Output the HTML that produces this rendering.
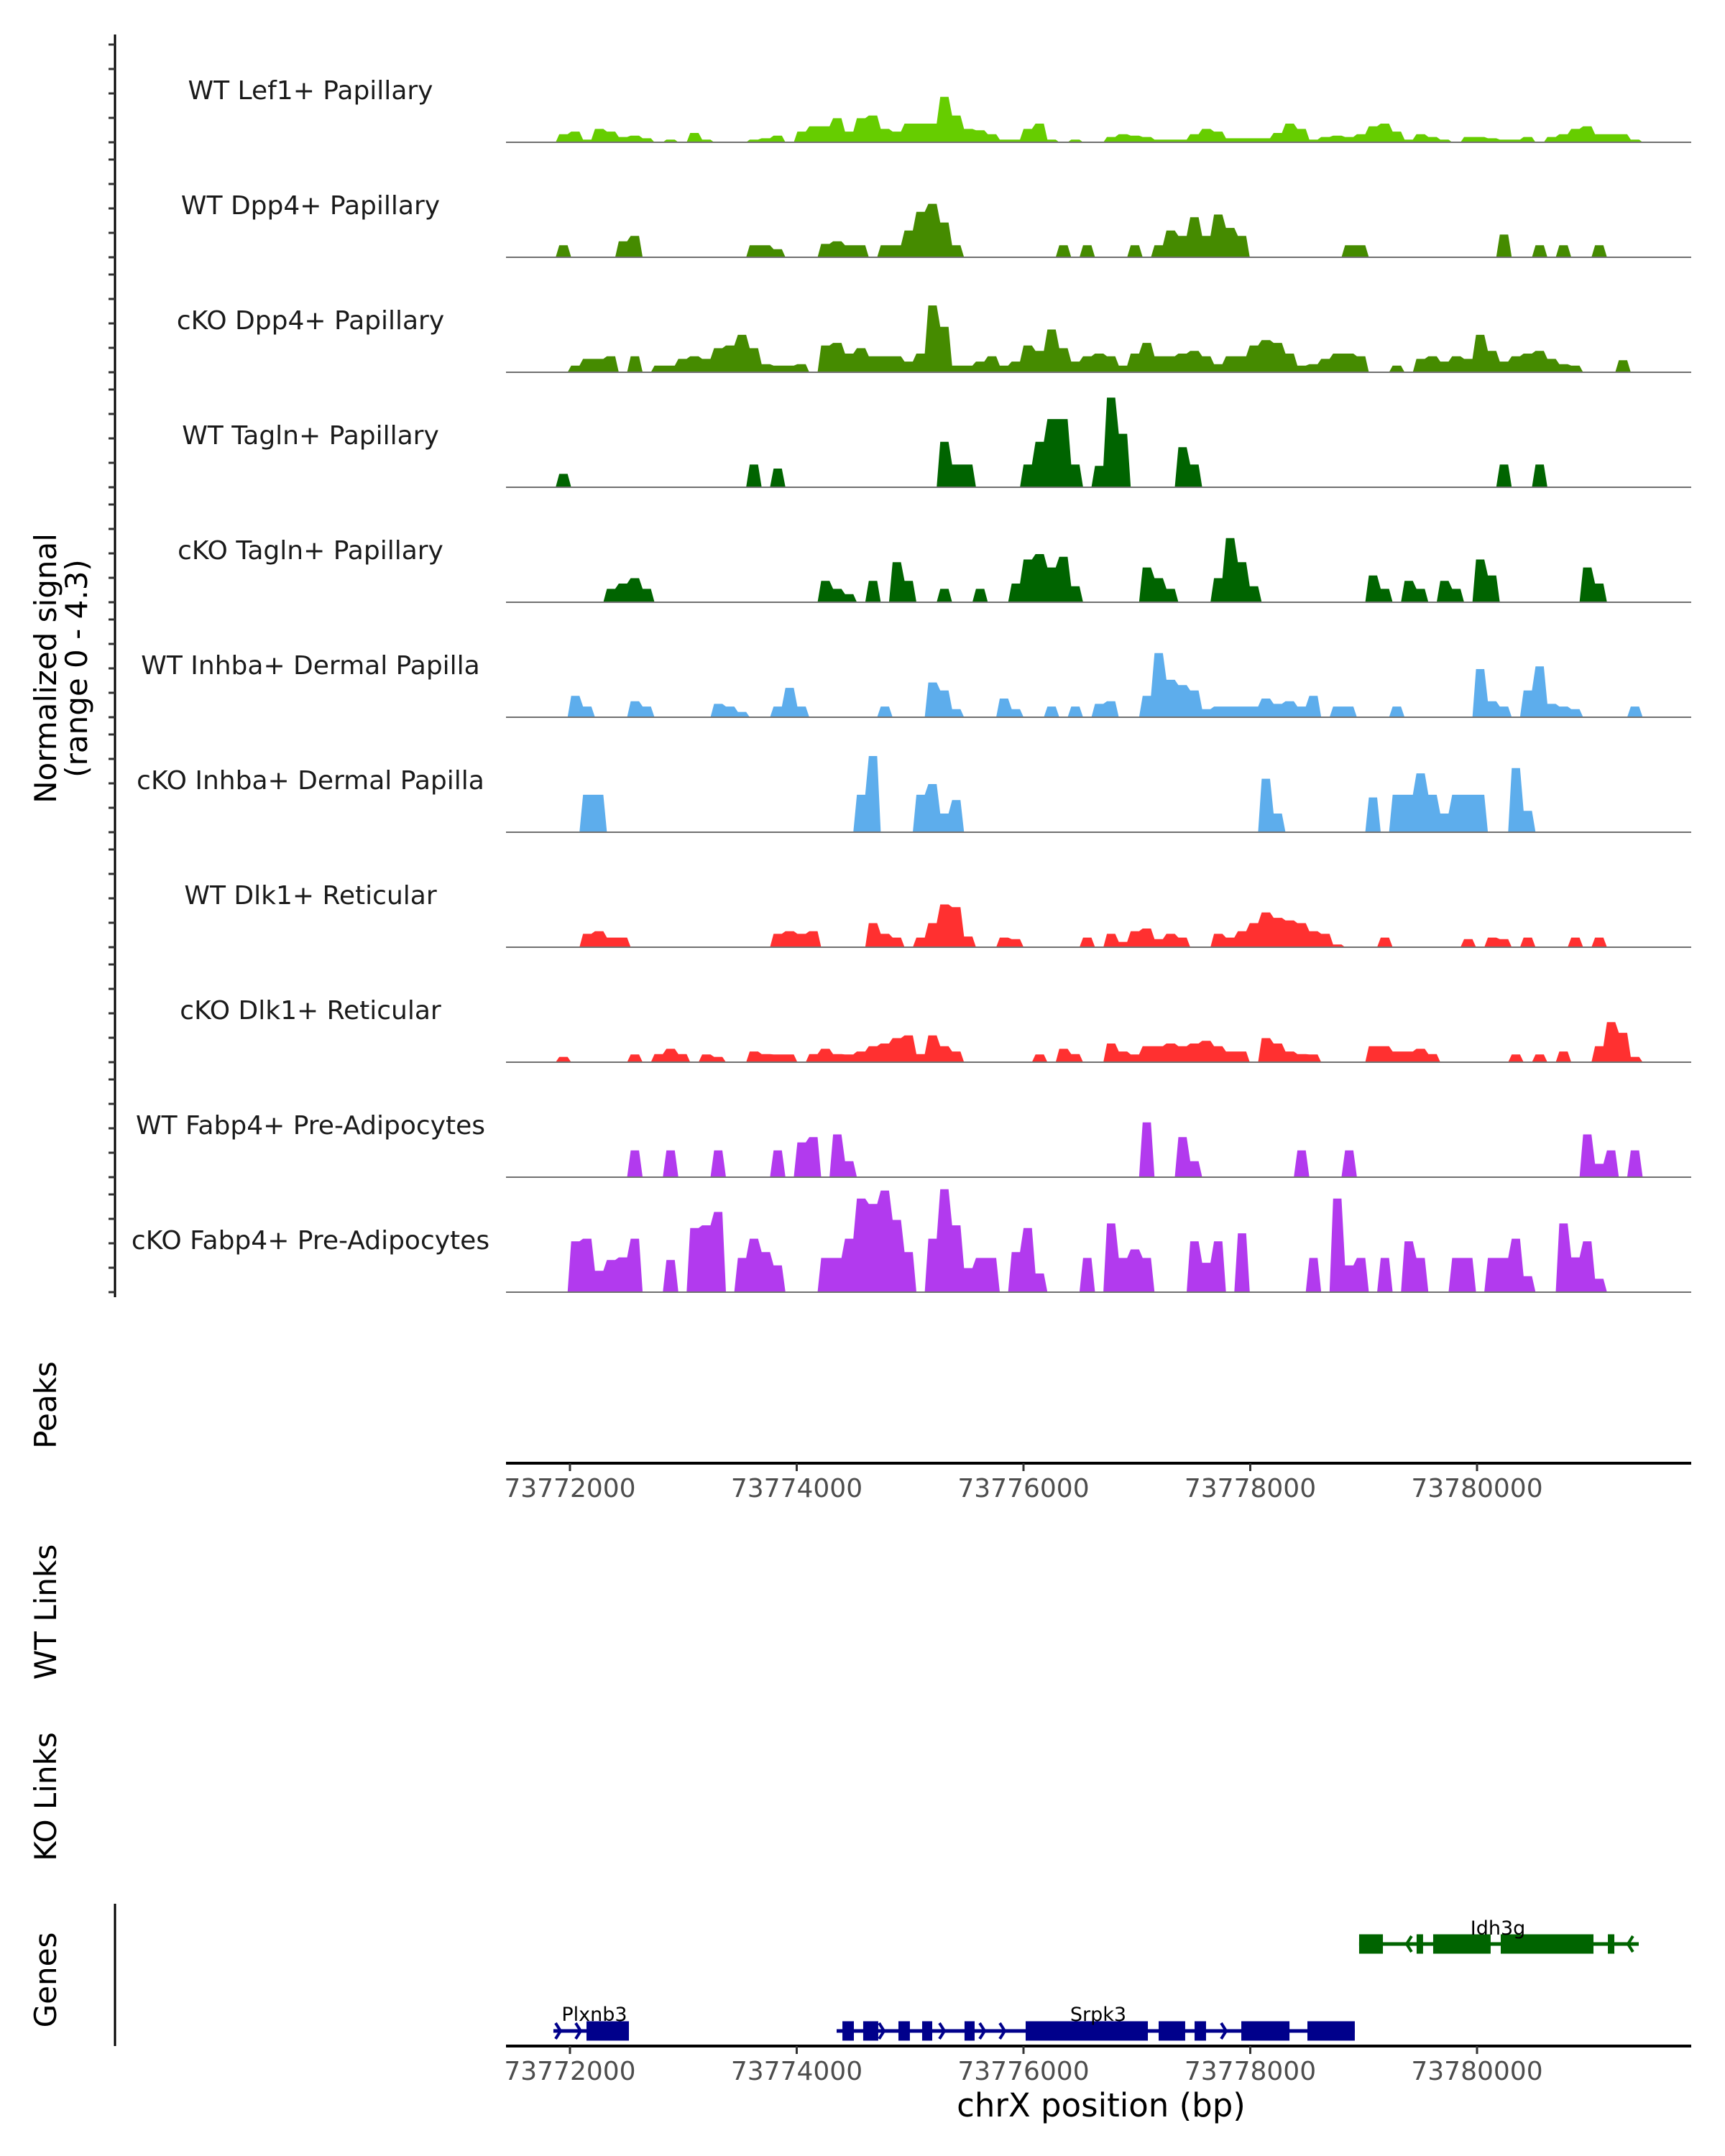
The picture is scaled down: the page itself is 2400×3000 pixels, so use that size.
<!DOCTYPE html>
<html><head><meta charset="utf-8">
<style>
html,body{margin:0;padding:0;background:#fff;}
svg{display:block;font-family:"DejaVu Sans","Liberation Sans",sans-serif;}
</style></head>
<body>
<svg id="chart" width="2400" height="3000" viewBox="0 0 2400 3000" xmlns="http://www.w3.org/2000/svg">
  <g id="tracks"></g>
  <g id="leftaxis"></g>
  <text transform="translate(78,930) rotate(-90)" text-anchor="middle" font-size="42" fill="#000">Normalized signal</text>
  <text transform="translate(121,930) rotate(-90)" text-anchor="middle" font-size="42" fill="#000">(range 0 - 4.3)</text>
  <text transform="translate(78,1955) rotate(-90)" text-anchor="middle" font-size="42" fill="#000">Peaks</text>
  <text transform="translate(78,2243) rotate(-90)" text-anchor="middle" font-size="42" fill="#000">WT Links</text>
  <text transform="translate(78,2500) rotate(-90)" text-anchor="middle" font-size="42" fill="#000">KO Links</text>
  <text transform="translate(78,2755) rotate(-90)" text-anchor="middle" font-size="42" fill="#000">Genes</text>
  <line x1="160" y1="2649" x2="160" y2="2847" stroke="#000" stroke-width="3"/>
  <g id="axes"></g>
  <g id="genes"></g>
  <text x="1532" y="2945" text-anchor="middle" font-size="45" fill="#000">chrX position (bp)</text>
</svg>
<script>
// ---- data ----
const binStart = 73771470;
const binSize = 105;
const trackNames = ["WT Lef1+ Papillary","WT Dpp4+ Papillary","cKO Dpp4+ Papillary","WT Tagln+ Papillary","cKO Tagln+ Papillary","WT Inhba+ Dermal Papilla","cKO Inhba+ Dermal Papilla","WT Dlk1+ Reticular","cKO Dlk1+ Reticular","WT Fabp4+ Pre-Adipocytes","cKO Fabp4+ Pre-Adipocytes"];
const trackColors = ["#66CD00","#458B00","#458B00","#006400","#006400","#5DADEC","#5DADEC","#FF3030","#FF3030","#B23AEE","#B23AEE"];
const lef1WT = [[4,.3],[5,.4],[6,.1],[7,.5],[8,.4],[9,.2],[10,.25],[11,.15],[13,.1],[15,.35],[16,.1],[20,.1],[21,.15],[22,.25],[24,.4],[25,.6],[26,.6],[27,.9],[28,.4],[29,.9],[30,1.0],[31,.5],[32,.4],[33,.7],[34,.7],[35,.7],[36,1.7],[37,1.0],[38,.5],[39,.45],[40,.3],[41,.1],[42,.1],[43,.5],[44,.7],[45,.1],[47,.1],[50,.2],[51,.3],[52,.25],[53,.2],[54,.1],[55,.1],[56,.1],[57,.3],[58,.5],[59,.4],[60,.15],[61,.15],[62,.15],[63,.15],[64,.35],[65,.7],[66,.5],[67,.1],[68,.2],[69,.25],[70,.2],[71,.3],[72,.6],[73,.7],[74,.4],[75,.1],[76,.3],[77,.2],[78,.1],[80,.2],[81,.2],[82,.15],[83,.1],[84,.1],[85,.2],[87,.2],[88,.3],[89,.5],[90,.6],[91,.3],[92,.3],[93,.3],[94,.1]];
const dpp4WT = [[4,.45],[9,.6],[10,.8],[20,.45],[21,.45],[22,.3],[26,.5],[27,.6],[28,.45],[29,.45],[31,.45],[32,.45],[33,1.0],[34,1.7],[35,2.0],[36,1.3],[37,.45],[46,.45],[48,.45],[52,.45],[54,.45],[55,1.0],[56,.8],[57,1.5],[58,.8],[59,1.6],[60,1.1],[61,.8],[70,.45],[71,.45],[83,.85],[86,.45],[88,.45],[91,.45]];
const dpp4KO = [[5,.25],[6,.5],[7,.5],[8,.6],[10,.6],[12,.25],[13,.25],[14,.5],[15,.6],[16,.5],[17,.9],[18,1.0],[19,1.4],[20,.9],[21,.3],[22,.25],[23,.25],[24,.3],[26,1.0],[27,1.1],[28,.7],[29,.9],[30,.6],[31,.6],[32,.6],[33,.4],[34,.7],[35,2.5],[36,1.7],[37,.25],[38,.25],[39,.4],[40,.6],[41,.25],[42,.4],[43,1.0],[44,.8],[45,1.6],[46,.9],[47,.4],[48,.6],[49,.7],[50,.6],[51,.25],[52,.7],[53,1.1],[54,.6],[55,.6],[56,.7],[57,.8],[58,.6],[59,.3],[60,.6],[61,.6],[62,1.0],[63,1.2],[64,1.1],[65,.7],[66,.25],[67,.3],[68,.5],[69,.7],[70,.7],[71,.6],[74,.25],[76,.5],[77,.6],[78,.4],[79,.6],[80,.5],[81,1.4],[82,.8],[83,.4],[84,.6],[85,.7],[86,.8],[87,.5],[88,.3],[89,.25],[93,.45]];
const taglnWT = [[4,.5],[20,.85],[22,.7],[36,1.7],[37,.85],[38,.85],[43,.85],[44,1.7],[45,2.55],[46,2.55],[47,.85],[49,.8],[50,3.35],[51,2.0],[56,1.5],[57,.85],[83,.85],[86,.85]];
const taglnKO = [[8,.5],[9,.7],[10,.9],[11,.5],[26,.8],[27,.5],[28,.3],[30,.8],[32,1.5],[33,.8],[36,.5],[39,.5],[42,.7],[43,1.6],[44,1.8],[45,1.3],[46,1.7],[47,.6],[53,1.3],[54,.9],[55,.5],[59,.9],[60,2.4],[61,1.5],[62,.6],[72,1.0],[73,.5],[75,.8],[76,.5],[78,.8],[79,.5],[81,1.6],[82,1.0],[90,1.3],[91,.7]];
const inhbaWT = [[5,.8],[6,.4],[10,.6],[11,.4],[17,.5],[18,.4],[19,.2],[22,.4],[23,1.1],[24,.4],[31,.4],[35,1.3],[36,1.0],[37,.3],[41,.7],[42,.3],[45,.4],[47,.4],[49,.5],[50,.6],[53,.8],[54,2.4],[55,1.4],[56,1.2],[57,1.0],[58,.3],[59,.4],[60,.4],[61,.4],[62,.4],[63,.7],[64,.5],[65,.6],[66,.4],[67,.8],[69,.4],[70,.4],[74,.4],[81,1.8],[82,.6],[83,.4],[85,1.0],[86,1.9],[87,.5],[88,.4],[89,.3],[94,.4]];
const inhbaKO = [[6,1.4],[7,1.4],[29,1.4],[30,2.85],[34,1.4],[35,1.8],[36,.7],[37,1.2],[63,2.0],[64,.7],[72,1.3],[74,1.4],[75,1.4],[76,2.2],[77,1.4],[78,.7],[79,1.4],[80,1.4],[81,1.4],[84,2.4],[85,.8]];
const dlk1WT = [[6,.5],[7,.6],[8,.36],[9,.36],[22,.5],[23,.6],[24,.5],[25,.6],[30,.9],[31,.5],[32,.36],[34,.36],[35,.9],[36,1.6],[37,1.5],[38,.4],[41,.36],[42,.3],[48,.36],[50,.5],[51,.2],[52,.6],[53,.7],[54,.3],[55,.5],[56,.36],[59,.5],[60,.36],[61,.6],[62,.9],[63,1.3],[64,1.1],[65,1.0],[66,.9],[67,.6],[68,.5],[69,.1],[73,.36],[80,.3],[82,.36],[83,.3],[85,.36],[89,.36],[91,.36]];
const dlk1KO = [[4,.2],[10,.29],[12,.3],[13,.5],[14,.3],[16,.29],[17,.2],[20,.4],[21,.3],[22,.29],[23,.29],[25,.3],[26,.5],[27,.3],[28,.29],[29,.4],[30,.6],[31,.7],[32,.9],[33,1.0],[34,.3],[35,1.0],[36,.6],[37,.4],[44,.29],[46,.5],[47,.3],[50,.7],[51,.4],[52,.29],[53,.6],[54,.6],[55,.7],[56,.6],[57,.7],[58,.8],[59,.6],[60,.4],[61,.4],[63,.9],[64,.7],[65,.4],[66,.3],[67,.29],[72,.6],[73,.6],[74,.4],[75,.4],[76,.5],[77,.3],[84,.29],[86,.29],[88,.4],[91,.6],[92,1.5],[93,1.1],[94,.2]];
const fabp4WT = [[10,1.0],[13,1.0],[17,1.0],[22,1.0],[24,1.3],[25,1.5],[27,1.6],[28,.6],[53,2.05],[56,1.5],[57,.6],[66,1.0],[70,1.0],[90,1.6],[91,.5],[92,1.0],[94,1.0]];
const fabp4KO = [[5,1.9],[6,2.0],[7,.8],[8,1.2],[9,1.3],[10,2.0],[13,1.2],[15,2.4],[16,2.5],[17,3.0],[19,1.28],[20,2.0],[21,1.5],[22,1.0],[26,1.28],[27,1.28],[28,2.0],[29,3.5],[30,3.3],[31,3.8],[32,2.7],[33,1.5],[35,2.0],[36,3.85],[37,2.5],[38,.9],[39,1.28],[40,1.28],[42,1.5],[43,2.4],[44,.7],[48,1.28],[50,2.57],[51,1.28],[52,1.6],[53,1.28],[57,1.9],[58,1.1],[59,1.9],[61,2.2],[67,1.28],[69,3.5],[70,1.0],[71,1.28],[73,1.28],[75,1.9],[76,1.28],[79,1.28],[80,1.28],[82,1.28],[83,1.28],[84,2.0],[85,.6],[88,2.57],[89,1.3],[90,1.9],[91,.5]];
const trackData = [lef1WT,dpp4WT,dpp4KO,taglnWT,taglnKO,inhbaWT,inhbaKO,dlk1WT,dlk1KO,fabp4WT,fabp4KO];
const xTicks = [73772000,73774000,73776000,73778000,73780000];
const genePlxnb3 = {name:"Plxnb3", strand:1, start:73771854, end:73772520, exons:[[73772146,73772520]]};
const geneSrpk3 = {name:"Srpk3", strand:1, start:73774352, end:73778922, exons:[[73774403,73774504],[73774586,73774719],[73774897,73774998],[73775106,73775195],[73775480,73775569],[73776019,73777097],[73777192,73777426],[73777509,73777610],[73777921,73778346],[73778504,73778922]]};
const geneIdh3g = {name:"Idh3g", strand:-1, start:73778960, end:73781426, exons:[[73778960,73779170],[73779467,73779524],[73779613,73780120],[73780209,73781027],[73781154,73781211]]};

// ---- scales ----
const X0 = 704, X1 = 2353, BP0 = 73771436, BP1 = 73781889;
function xs(bp){ return X0 + (bp-BP0)/(BP1-BP0)*(X1-X0); }
const TRACK_H = 160, YMAX = 4.3, BASE0 = 198;
function ys(v, base){ return base - v/YMAX*TRACK_H; }
const NS = "http://www.w3.org/2000/svg";
function mk(tag, parent){ const e = document.createElementNS(NS, tag); parent.appendChild(e); return e; }

// ---- tracks ----
const tg = document.getElementById('tracks');
const la = document.getElementById('leftaxis');
const axl = mk('line', la);


axl.setAttribute('x1',160); axl.setAttribute('x2',160); axl.setAttribute('y1',48); axl.setAttribute('y2',1805);
axl.setAttribute('stroke','#000'); axl.setAttribute('stroke-width',3);
trackNames.forEach((nm, k) => {
  const base = BASE0 + k*160;
  const g = mk('g', tg);
  
  
  const lab = mk('text', g);
  
  
  lab.setAttribute('x', 432); lab.setAttribute('y', base-60);
  lab.setAttribute('text-anchor','middle'); lab.setAttribute('font-size', 36); lab.setAttribute('fill','#1a1a1a');
  lab.textContent = nm;
  const vals = new Array(100).fill(0);
  trackData[k].forEach(([b,v]) => { vals[b] = v; });
  let d = 'M' + xs(binStart).toFixed(1) + ',' + base;
  vals.forEach((v,i) => {
    const a = xs(binStart + i*binSize), b = xs(binStart + (i+1)*binSize);
    const y = ys(v, base).toFixed(1);
    d += ' L' + (a+2.5).toFixed(1) + ',' + y + ' L' + (b-2.5).toFixed(1) + ',' + y;
  });
  d += ' L' + xs(binStart + 100*binSize).toFixed(1) + ',' + base + ' Z';
  const area = mk('path', g);
  
  
  area.setAttribute('d', d); area.setAttribute('fill', trackColors[k]);
  const bl = mk('line', g);
  
  
  bl.setAttribute('x1', X0); bl.setAttribute('x2', X1); bl.setAttribute('y1', base); bl.setAttribute('y2', base);
  bl.setAttribute('stroke', '#707070'); bl.setAttribute('stroke-width', 2);
  for (let j=0;j<5;j++){
    const t = mk('line', la);
    
    
    t.setAttribute('x1',151); t.setAttribute('x2',160);
    t.setAttribute('y1', base - j*34); t.setAttribute('y2', base - j*34);
    t.setAttribute('stroke','#333'); t.setAttribute('stroke-width',3);
  }
});
tg.setAttribute('clip-path','url(#plotclip)');
const defs = mk('defs', document.getElementById('chart'));
const cp = mk('clipPath', defs); cp.setAttribute('id','plotclip');
const cr = mk('rect', cp); cr.setAttribute('x',0); cr.setAttribute('y',0); cr.setAttribute('width',X1); cr.setAttribute('height',3000);

// ---- x axes ----
const ag = document.getElementById('axes');
[[2036,'peaks-x-axis'],[2847,'genes-x-axis']].forEach(([ay, nm]) => {
  const g = mk('g', ag);
  
  
  const l = mk('line', g);
  
  
  l.setAttribute('x1', X0); l.setAttribute('x2', X1); l.setAttribute('y1', ay); l.setAttribute('y2', ay);
  l.setAttribute('stroke','#000'); l.setAttribute('stroke-width',4);
  xTicks.forEach(bp => {
    const t = mk('line', g);
    
    
    t.setAttribute('x1', xs(bp)); t.setAttribute('x2', xs(bp)); t.setAttribute('y1', ay); t.setAttribute('y2', ay+11);
    t.setAttribute('stroke','#333'); t.setAttribute('stroke-width',3);
    const tx = mk('text', g);
    
    
    tx.setAttribute('x', xs(bp)); tx.setAttribute('y', ay+47);
    tx.setAttribute('text-anchor','middle'); tx.setAttribute('font-size', 36); tx.setAttribute('fill','#4d4d4d');
    tx.textContent = String(bp);
  });
});

// ---- genes ----
const gg = document.getElementById('genes');
function drawGene(gene, yc, color, lx, ly){
  const g = mk('g', gg);
  
  
  const ln = mk('line', g);
  
  
  ln.setAttribute('x1', xs(gene.start)); ln.setAttribute('x2', xs(gene.end));
  ln.setAttribute('y1', yc); ln.setAttribute('y2', yc);
  ln.setAttribute('stroke', color); ln.setAttribute('stroke-width', 5);
  const s = xs(gene.start), e = xs(gene.end);
  for (let x = s + 10; x < e - 4; x += 28) {
    const inExon = gene.exons.some(([a,b]) => x > xs(a)-8 && x < xs(b)+8);
    if (inExon) continue;
    const c = mk('path', g);
    
    
    const dx = gene.strand > 0 ? 7 : -7;
    c.setAttribute('d', 'M' + (x-dx) + ',' + (yc-11) + ' L' + x + ',' + yc + ' L' + (x-dx) + ',' + (yc+11));
    c.setAttribute('stroke', color); c.setAttribute('stroke-width', 4); c.setAttribute('fill','none');
  }
  gene.exons.forEach(([a,b]) => {
    const r = mk('rect', g);
    
    
    r.setAttribute('x', xs(a)); r.setAttribute('width', Math.max(4, xs(b)-xs(a)));
    r.setAttribute('y', yc-13.5); r.setAttribute('height', 27); r.setAttribute('fill', color);
  });
  const t = mk('text', g);
  
  
  t.setAttribute('x', lx); t.setAttribute('y', ly); t.setAttribute('text-anchor','middle');
  t.setAttribute('font-size', 27); t.setAttribute('fill','#000');
  t.textContent = gene.name;
}
drawGene(genePlxnb3, 2826, '#00008B', 827, 2812);
drawGene(geneSrpk3, 2826, '#00008B', 1528, 2812);
drawGene(geneIdh3g, 2705, '#006400', 2084, 2692);
</script>
</body></html>
